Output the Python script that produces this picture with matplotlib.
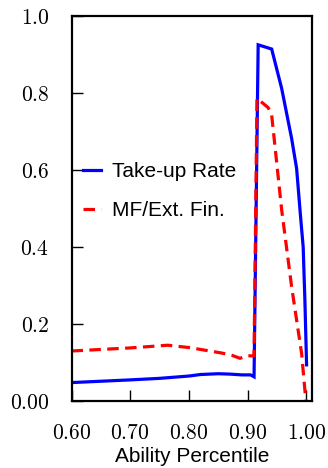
import matplotlib
matplotlib.use("Agg")
import matplotlib.pyplot as plt
from matplotlib.ticker import FixedLocator, FixedFormatter

# values
takeup_x = [0.60, 0.70, 0.75, 0.80, 0.82, 0.85, 0.87, 0.89, 0.905, 0.911,
            0.918, 0.941, 0.958, 0.975, 0.9835, 0.990, 0.9947, 0.9976, 1.0005]
takeup_y = [0.048, 0.055, 0.059, 0.065, 0.069, 0.071, 0.070, 0.068, 0.068, 0.063,
            0.925, 0.914, 0.812, 0.682, 0.604, 0.483, 0.400, 0.262, 0.094]

mf_x = [0.60, 0.70, 0.764, 0.80, 0.82, 0.855, 0.873, 0.887, 0.900, 0.909, 0.911,
        0.916, 0.935, 0.941, 0.958, 0.975, 0.992, 0.9993]
mf_y = [0.130, 0.138, 0.145, 0.139, 0.134, 0.125, 0.119, 0.111, 0.118, 0.117, 0.118,
        0.786, 0.762, 0.743, 0.497, 0.297, 0.124, 0.0]

xticks = [0.60, 0.70, 0.80, 0.90, 1.00]
xtick_labels = ["0.60", "0.70", "0.80", "0.90", "1.00"]
yticks = [0.0, 0.2, 0.4, 0.6, 0.8, 1.0]
ytick_labels = ["0.00", "0.2", "0.4", "0.6", "0.8", "1.0"]

plt.rcParams["mathtext.fontset"] = "cm"

fig = plt.figure(figsize=(3.28, 4.68), dpi=100)
ax = fig.add_axes([0.218, 0.143, 0.733, 0.823])

ax.plot(takeup_x, takeup_y, color="#0000ff", lw=2.3, solid_joinstyle="miter",
        label="Take-up Rate")
ax.plot(mf_x, mf_y, color="#ff0000", lw=2.3, dashes=(3.6, 2.0),
        label="MF/Ext. Fin.")

ax.set_xlim(0.6, 1.0096)
ax.set_ylim(0.0, 1.0)

ax.xaxis.set_major_locator(FixedLocator(xticks))
ax.xaxis.set_major_formatter(FixedFormatter([f"${t}$" for t in xtick_labels]))
ax.yaxis.set_major_locator(FixedLocator(yticks))
ax.yaxis.set_major_formatter(FixedFormatter([f"${t}$" for t in ytick_labels]))

ax.tick_params(direction="in", length=8, width=1.0, labelsize=15.5, pad=16,
               top=False, right=False)
for s in ax.spines.values():
    s.set_linewidth(1.6)

ax.set_xlabel("Ability Percentile", family="Liberation Sans", fontsize=15,
              labelpad=3)

ax.legend(loc="center left", bbox_to_anchor=(-0.03, 0.545), frameon=False,
          handlelength=0.85, handletextpad=0.55, labelspacing=0.95,
          prop={"family": "Liberation Sans", "size": 15})

fig.savefig("out.png", dpi=100)
